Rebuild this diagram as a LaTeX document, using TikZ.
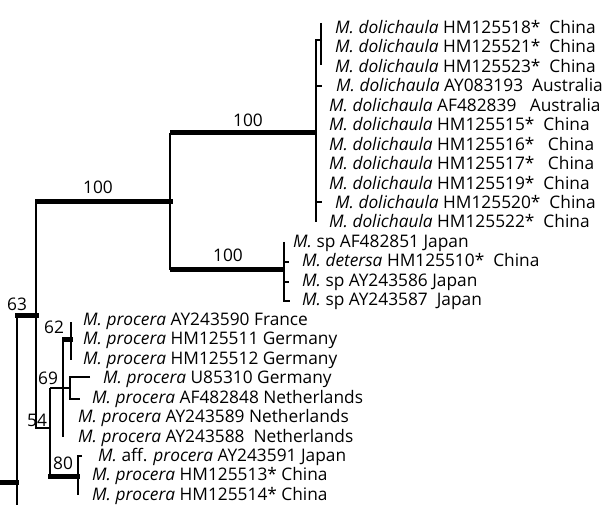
\documentclass[tikz,border=0pt]{standalone}
\usepackage{fontspec}
\setmainfont{Open Sans}
\usetikzlibrary{positioning}

\tikzset{
  taxon/.style={anchor=base west, inner sep=0pt, font=\fontsize{17.3}{19}\selectfont},
  boot/.style={inner sep=0pt, font=\fontsize{17.3}{19}\selectfont},
  twig/.style={line width=1.5pt, line cap=butt, line join=miter},
  stem/.style={line width=5pt, line cap=butt}
}

\begin{document}
\begin{tikzpicture}[x=1pt, y=-1pt]
  \useasboundingbox (0,0) rectangle (616,505);

  % --- dolichaula clade ---
  \draw[twig] (321,23) -- (321,65);
  \draw[twig] (322,40) -- (316,40) -- (316,222);
  \draw[twig] (316,86) -- (322,86);
  \draw[twig] (316,202) -- (322,202);
  \draw[stem] (170,133) -- (316,133);
  \node[boot] (bs1) at (248,120) {100};

  \node[taxon] (d1)  at (335,33.5)  {\textit{M. dolichaula} HM125518*~ China};
  \node[taxon] (d2)  at (335,53.0)  {\textit{M. dolichaula} HM125521*~ China};
  \node[taxon] (d3)  at (335,72.4)  {\textit{M. dolichaula} HM125523*~ China};
  \node[taxon] (d4)  at (336,91.9)  {\textit{M. dolichaula} AY083193~ Australia};
  \node[taxon] (d5)  at (329,111.3) {\textit{M. dolichaula} AF482839~~ Australia};
  \node[taxon] (d6)  at (329,130.8) {\textit{M. dolichaula} HM125515*~ China};
  \node[taxon] (d7)  at (329,150.2) {\textit{M. dolichaula} HM125516*~~ China};
  \node[taxon] (d8)  at (329,169.7) {\textit{M. dolichaula} HM125517*~~ China};
  \node[taxon] (d9)  at (329,189.1) {\textit{M. dolichaula} HM125519*~ China};
  \node[taxon] (d10) at (335,208.6) {\textit{M. dolichaula} HM125520*~ China};
  \node[taxon] (d11) at (329,228.0) {\textit{M. dolichaula} HM125522*~ China};

  % --- sp / detersa clade ---
  \draw[twig] (170,133) -- (170,270);
  \draw[stem] (170,270) -- (284,270);
  \draw[twig] (284,242) -- (284,301) -- (290,301);
  \draw[twig] (284,262) -- (289,262);
  \draw[twig] (284,282) -- (289,282);
  \node[boot] (bs2) at (228,255) {100};

  \node[taxon] (s1) at (293,247.5) {\textit{M.} sp AF482851 Japan};
  \node[taxon] (s2) at (302,266.9) {\textit{M. detersa} HM125510*~ China};
  \node[taxon] (s3) at (302,286.4) {\textit{M.} sp AY243586 Japan};
  \node[taxon] (s4) at (302,305.8) {\textit{M.} sp AY243587~ Japan};

  % --- backbone ---
  \draw[stem] (35,202) -- (173,202);
  \node[boot] (bs3) at (98,187) {100};
  \draw[twig] (36,202) -- (36,428) -- (50,428);
  \draw[stem] (15,315) -- (39,315);
  \node[boot] (bs4) at (17,304) {63};
  \draw[twig] (17,315) -- (17,505);
  \draw[stem] (0,482) -- (19,482);
  \node[boot] (bs5) at (37,420) {54};
  \draw[twig] (50,388) -- (50,476);
  \draw[twig] (50,388) -- (70,388);

  % --- procera clade ---
  \draw[twig] (63,339) -- (63,437);
  \draw[stem] (62,339) -- (73,339);
  \draw[twig] (71,322) -- (71,360);
  \node[boot] (bs6) at (54,327) {62};
  \draw[twig] (90,377) -- (70,377) -- (70,399) -- (80,399);
  \node[boot] (bs7) at (48,378) {69};
  \draw[stem] (48,476) -- (80,476);
  \draw[twig] (82,456) -- (78,456) -- (78,495);
  \node[boot] (bs8) at (63,463) {80};

  \node[taxon] (p1)  at (83,325.3)  {\textit{M. procera} AY243590 France};
  \node[taxon] (p2)  at (83,344.7)  {\textit{M. procera} HM125511 Germany};
  \node[taxon] (p3)  at (83,364.2)  {\textit{M. procera} HM125512 Germany};
  \node[taxon] (p4)  at (103,383.6) {\textit{M. procera} U85310 Germany};
  \node[taxon] (p5)  at (92,403.1)  {\textit{M. procera} AF482848 Netherlands};
  \node[taxon] (p6)  at (78,422.5)  {\textit{M. procera} AY243589 Netherlands};
  \node[taxon] (p7)  at (78,442.0)  {\textit{M. procera} AY243588~ Netherlands};
  \node[taxon] (p8)  at (98,461.4)  {\textit{M.} aff. \textit{procera} AY243591 Japan};
  \node[taxon] (p9)  at (92,480.9)  {\textit{M. procera} HM125513* China};
  \node[taxon] (p10) at (92,500.3)  {\textit{M. procera} HM125514* China};
\end{tikzpicture}
\end{document}
